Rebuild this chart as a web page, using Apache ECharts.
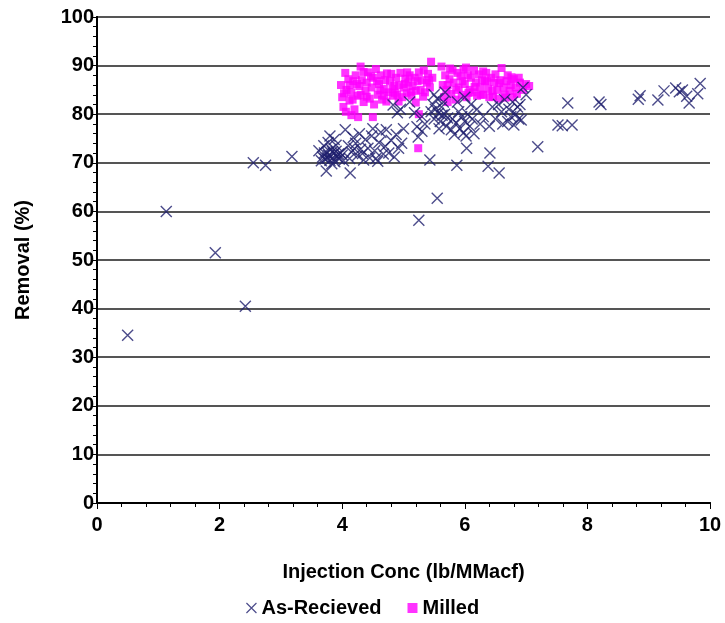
<!DOCTYPE html>
<html>
<head>
<meta charset="utf-8">
<script src="https://cdn.jsdelivr.net/npm/echarts@6/dist/echarts.min.js"></script>
<style>
  html, body { margin: 0; padding: 0; background: #fff; }
  #chart { width: 725px; height: 623px; }
</style>
</head>
<body>
<div id="chart"></div>
<script>
// =====================
// data
// =====================

const seriesNames = ["As-Recieved", "Milled"];

const asReceived = [
  [0.5, 34.5], [1.13, 60], [1.93, 51.5], [2.42, 40.5], [2.55, 70], [2.75, 69.5], [3.18, 71.3],
  [3.62, 72.5], [3.68, 71.2], [3.72, 70.8], [3.75, 72.1], [3.78, 71.5], [3.8, 70.5], [3.82, 72.8],
  [3.85, 71.0], [3.86, 71.9], [3.88, 70.2], [3.9, 72.4], [3.92, 71.3], [3.7, 73.5], [3.77, 74.2],
  [3.8, 75.5], [3.95, 70.8], [3.97, 72.0], [3.83, 69.8], [3.74, 68.3], [3.66, 70.4], [3.9, 73.6],
  [4.0, 71.6], [3.87, 74.8], [4.02, 70.4], [3.76, 71.0], [3.84, 72.3], [3.94, 71.8], [3.71, 72.0],
  [4.05, 76.8], [4.1, 73.5], [4.13, 67.9], [4.15, 72.2], [4.18, 75.2], [4.22, 74.0], [4.25, 71.5],
  [4.28, 76.0], [4.3, 72.8], [4.35, 70.6], [4.38, 74.8], [4.42, 73.0], [4.45, 71.0], [4.48, 75.5],
  [4.5, 77.0], [4.53, 72.5], [4.58, 70.3], [4.6, 74.2], [4.63, 76.3], [4.67, 71.8], [4.7, 73.4],
  [4.72, 76.8], [4.76, 72.0], [4.8, 74.6], [4.85, 71.2], [4.88, 75.8], [4.92, 73.0], [4.97, 74.0],
  [5.0, 77.0], [4.55, 70.9], [4.33, 71.9], [4.12, 70.9], [4.2, 72.9],
  [4.83, 81.9], [4.9, 80.3], [4.95, 81.0], [5.1, 82.5], [5.18, 80.3], [5.22, 77.4], [5.24, 75.3],
  [5.3, 76.5], [5.25, 58.2], [5.55, 62.7], [5.43, 70.6], [5.35, 78.0], [5.3, 79.5],
  [5.45, 80.5], [5.48, 82.0], [5.5, 79.0], [5.52, 81.0], [5.55, 83.2], [5.57, 80.2], [5.6, 78.5],
  [5.62, 81.5], [5.63, 79.8], [5.65, 82.5], [5.67, 80.0], [5.7, 77.5], [5.72, 79.2], [5.58, 77.0],
  [5.5, 84.0], [5.68, 84.5],
  [5.78, 76.8], [5.8, 79.0], [5.83, 75.8], [5.86, 78.2], [5.9, 80.5], [5.92, 77.0], [5.95, 79.5],
  [5.98, 76.2], [6.0, 78.5], [6.02, 75.5], [6.05, 80.0], [6.08, 77.5], [6.1, 82.0], [6.12, 79.0],
  [6.15, 76.0], [6.2, 81.0], [6.25, 78.0], [6.3, 79.5], [5.88, 82.5], [6.0, 83.5], [6.03, 73.0],
  [6.41, 72.0], [6.38, 69.3], [6.56, 67.9], [5.87, 69.5],
  [6.45, 81.5], [6.5, 79.0], [6.55, 82.0], [6.6, 80.5], [6.65, 83.0], [6.7, 78.5], [6.72, 81.0],
  [6.75, 79.5], [6.78, 82.5], [6.8, 77.8], [6.83, 80.0], [6.86, 81.5], [6.88, 79.0], [6.9, 82.0],
  [6.92, 78.8], [6.95, 85.5], [7.0, 84.0], [6.62, 78.0], [6.4, 77.5],
  [7.19, 73.3], [7.52, 77.8], [7.68, 82.3], [7.59, 77.6], [7.75, 77.8], [8.19, 82.5], [8.22, 82.0],
  [8.83, 83.1], [8.86, 83.8], [9.15, 82.9], [9.25, 84.8], [9.44, 85.4], [9.55, 85.0], [9.62, 83.7],
  [9.66, 82.3], [9.8, 84.2], [9.84, 86.3], [9.5, 84.6]
];

const milled = [
  [3.98, 86.0], [4.0, 83.5], [4.02, 81.5], [4.05, 88.5], [4.07, 85.0], [4.1, 87.2], [4.12, 82.8],
  [4.15, 84.5], [4.18, 86.8], [4.2, 81.0], [4.22, 88.0], [4.25, 83.8], [4.28, 85.8], [4.3, 89.8],
  [4.32, 87.0], [4.35, 82.5], [4.38, 84.8], [4.4, 86.5], [4.42, 88.6], [4.45, 83.2], [4.48, 85.5],
  [4.5, 87.5], [4.52, 82.0], [4.55, 89.3], [4.58, 84.0], [4.6, 86.2], [4.63, 88.0], [4.65, 83.0],
  [4.68, 85.2], [4.7, 87.0], [4.72, 82.6], [4.75, 84.5], [4.78, 86.8], [4.8, 88.3], [4.83, 83.8],
  [4.85, 85.8], [4.88, 87.5], [4.9, 84.0], [4.93, 86.0], [4.95, 88.5], [4.98, 83.5], [5.0, 85.5],
  [5.03, 87.3], [5.05, 84.3], [5.08, 86.5], [5.1, 88.0], [5.13, 83.8], [5.15, 85.8], [5.18, 87.5],
  [5.2, 84.8], [5.23, 86.8], [5.25, 88.6], [5.28, 85.0], [5.3, 87.0], [5.33, 89.0], [5.35, 84.5],
  [5.38, 86.5], [5.4, 88.3], [5.43, 85.5], [5.45, 90.8], [5.47, 87.5], [4.06, 80.5], [4.15, 79.8],
  [4.26, 79.4], [4.5, 79.4], [5.24, 73.0], [5.25, 80.0], [4.35, 88.7], [4.62, 84.9], [4.12, 86.0],
  [4.03, 84.3], [4.17, 83.0], [4.24, 86.2], [4.4, 83.6], [4.47, 87.8], [4.57, 86.8], [4.68, 83.8],
  [4.73, 88.4], [4.82, 85.2], [4.92, 82.6], [5.02, 86.2], [5.12, 84.6], [5.2, 82.4], [5.32, 83.6],
  [5.42, 87.0], [4.3, 84.0], [4.86, 84.4], [5.06, 88.6],
  [5.62, 89.8], [5.64, 86.0], [5.66, 83.5], [5.68, 88.0], [5.7, 85.0], [5.72, 82.5], [5.75, 87.2],
  [5.78, 84.2], [5.8, 89.0], [5.82, 86.5], [5.85, 83.0], [5.88, 88.5], [5.9, 85.5], [5.93, 87.8],
  [5.95, 84.0], [5.98, 89.2], [6.0, 86.2], [6.03, 83.5], [6.05, 88.0], [6.08, 85.0], [6.1, 87.5],
  [6.13, 84.5], [6.15, 89.0], [6.18, 86.5], [6.2, 83.8], [6.23, 88.2], [6.25, 85.5], [6.28, 87.0],
  [6.3, 84.0], [6.33, 86.8], [6.35, 88.5], [6.38, 85.2], [6.4, 83.5], [6.43, 87.5], [6.45, 84.8],
  [6.48, 86.5], [6.5, 88.2], [6.53, 85.0], [6.55, 83.2], [6.58, 87.0], [6.6, 89.5], [6.63, 85.5],
  [6.65, 84.0], [6.68, 86.8], [6.7, 88.0], [6.73, 84.8], [6.75, 86.0], [6.78, 83.5], [6.8, 87.2],
  [6.83, 85.5], [6.85, 84.2], [6.9, 86.5], [6.95, 85.0], [7.0, 86.2], [7.05, 85.8], [6.88, 87.5],
  [5.72, 86.0], [5.86, 85.0], [5.96, 86.8], [6.06, 84.4], [6.16, 85.6], [6.26, 84.0], [6.36, 86.8],
  [6.46, 83.6], [6.56, 86.4], [6.66, 83.4], [6.76, 87.6], [5.76, 89.4], [6.02, 89.6], [6.3, 88.8]
];

const crossPath = "path://M0,0L10,10M10,0L0,10";
const font = "Liberation Sans, Arial, sans-serif";
const textStyle = { fontFamily: font, fontWeight: "bold", fontSize: 20, color: "#000" };

// =====================
// chart
// =====================

const chart = echarts.init(document.getElementById("chart"));

chart.setOption({
  animation: false,
  backgroundColor: "#fff",

  grid: {
    left: 97,
    right: 15,
    top: 17,
    bottom: 120,
  },

  legend: {
    bottom: 0,
    left: "center",
    itemGap: 26,
    itemWidth: 10,
    itemHeight: 10,
    textStyle: textStyle,
    data: [
      {
        name: seriesNames[0],
        icon: crossPath,
        itemStyle: { color: "transparent", borderColor: "#1f1f6e", borderWidth: 1.2 },
      },
      { name: seriesNames[1], icon: "rect", itemStyle: { color: "#ff00ff" } },
    ],
  },

  xAxis: [
    {
      type: "value",
      min: 0,
      max: 10,
      interval: 2,
      name: "Injection Conc (lb/MMacf)",
      nameLocation: "middle",
      nameGap: 59,
      nameTextStyle: textStyle,
      axisLine: { show: true, onZero: false, lineStyle: { color: "#000", width: 2 } },
      axisTick: { show: true, length: 6, lineStyle: { color: "#000" } },
      minorTick: { show: true, splitNumber: 5, length: 4, lineStyle: { color: "#000" } },
      axisLabel: Object.assign({ margin: 12 }, textStyle),
      splitLine: { show: false },
    },
    {
      type: "value",
      position: "top",
      min: 0,
      max: 10,
      axisLine: { show: true, lineStyle: { color: "#000", width: 2 } },
      axisTick: { show: false },
      axisLabel: { show: false },
      splitLine: { show: false },
    },
  ],

  yAxis: [
    {
      type: "value",
      min: 0,
      max: 100,
      interval: 10,
      name: "Removal (%)",
      nameLocation: "middle",
      nameGap: 64,
      nameTextStyle: textStyle,
      axisLine: { show: true, lineStyle: { color: "#000", width: 2 } },
      axisTick: { show: true, length: 6, lineStyle: { color: "#000" } },
      minorTick: { show: true, splitNumber: 5, length: 4, lineStyle: { color: "#000" } },
      axisLabel: Object.assign({ margin: 3 }, textStyle),
      splitLine: { show: true, lineStyle: { color: "#555", width: 2 } },
    },
    {
      type: "value",
      position: "right",
      min: 0,
      max: 100,
      axisLine: { show: true, lineStyle: { color: "#000", width: 2 } },
      axisTick: { show: false },
      axisLabel: { show: false },
      splitLine: { show: false },
    },
  ],

  series: [
    {
      name: seriesNames[1],
      type: "scatter",
      symbol: "rect",
      symbolSize: 8,
      itemStyle: { color: "#ff00ff" },
      data: milled,
    },
    {
      name: seriesNames[0],
      type: "scatter",
      symbol: crossPath,
      symbolSize: 11,
      itemStyle: { color: "transparent", borderColor: "#1f1f6e", borderWidth: 1.4 },
      data: asReceived,
    },
  ],
});
</script>
</body>
</html>
